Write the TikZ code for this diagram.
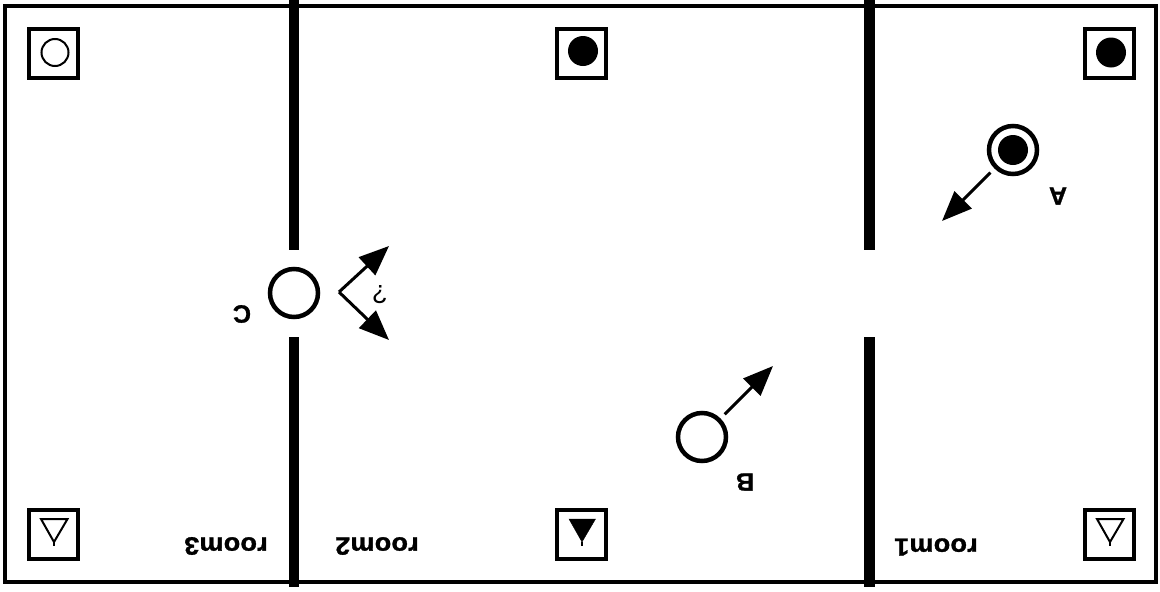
\documentclass[tikz,border=0pt]{standalone}
\usepackage{fontspec}
\setmainfont{Liberation Sans}[BoldFeatures={FakeBold=1.2}]
\newfontfamily\roomfont[FakeStretch=1.08,LetterSpace=1,BoldFeatures={FakeBold=1.2}]{Liberation Sans}
\usetikzlibrary{positioning,arrows.meta,calc}
\tikzset{
  frame/.style={draw=black,line width=4pt},
  wall/.style={draw=black,line width=10.5pt},
  cell/.style={draw=black,line width=4pt,minimum size=49pt,inner sep=0pt},
  robot/.style={circle,draw=black,line width=4.5pt,minimum size=48pt,
    inner sep=0pt,outer sep=8pt},
  move/.style={draw=black,line width=3pt,-{Triangle[length=30pt,width=24pt]}},
  tag/.style={rotate=180,inner sep=0pt,font=\fontsize{25}{25}\selectfont\bfseries},
  roomtag/.style={rotate=180,inner sep=0pt,
    font=\roomfont\fontsize{25}{25}\selectfont\bfseries},
  ask/.style={rotate=180,inner sep=0pt,font=\fontsize{26}{26}\selectfont}
}
\newcommand{\trimark}[2]{% cell, style
  \draw[#2] ($(#1)+(-12.5,-15)$) -- ($(#1)+(14,-15)$) -- ($(#1)+(0.5,8)$) -- cycle;
  \draw[line width=1.5pt] ($(#1)+(0.5,8)$) -- ($(#1)+(0.5,12)$);}

\begin{document}
\begin{tikzpicture}[x=1pt,y=-1pt]
  \useasboundingbox (0,0) rectangle (1160,592);
  \draw[frame] (5,5.5) rectangle (1155.5,581.5);
  % walls between the rooms
  \coordinate (w3a) at (294,0);
  \coordinate (w3b) at (294,250);
  \coordinate (w3c) at (294,337);
  \coordinate (w3d) at (294,587);
  \coordinate (w1a) at (869.5,0);
  \coordinate (w1b) at (869.5,250);
  \coordinate (w1c) at (869.5,337);
  \coordinate (w1d) at (869.5,587);
  \draw[wall] (w3a) -- (w3b);
  \draw[wall] (w3c) -- (w3d);
  \draw[wall] (w1a) -- (w1b);
  \draw[wall] (w1c) -- (w1d);
  % corner cells
  \node[cell] (t3) at (53.5,53.5) {};
  \node[cell] (t2) at (581.5,53.5) {};
  \node[cell] (t1) at (1109.5,53.5) {};
  \node[cell] (g3) at (53.5,534) {};
  \node[cell] (g2) at (581.5,534) {};
  \node[cell] (g1) at (1109.5,534) {};
  \draw[line width=2pt] ($(t3)+(1.5,-1)$) circle [radius=13.5];
  \fill[black] ($(t2)+(1.5,-2.5)$) circle [radius=15];
  \fill[black] ($(t1)+(1.5,-1)$) circle [radius=15];
  \trimark{g3}{draw=black,line width=2pt}
  \trimark{g2}{fill=black}
  \trimark{g1}{draw=black,line width=2pt}
  % robots
  \node[robot] (A) at (1013,150) {};
  \fill[black] (A) circle [radius=15];
  \node[robot] (B) at (702,437) {};
  \node[robot] (C) at (294,293) {};
  \coordinate (aTip) at (942,221);
  \coordinate (bTip) at (773,366);
  \coordinate (cV) at (339,292);
  \coordinate (cUp) at (389,246);
  \coordinate (cDn) at (389,340);
  \draw[move] (A) -- (aTip);
  \draw[move] (B) -- (bTip);
  \draw[move] (cV) -- (cUp);
  \draw[move] (cV) -- (cDn);
  % labels
  \node[tag] (lA) at (1058,196) {A};
  \node[tag] (lB) at (745,482) {B};
  \node[tag] (lC) at (242,314) {C};
  \node[ask] (lq) at (380,295) {?};
  \node[roomtag] (r1) at (936,547) {room1};
  \node[roomtag] (r2) at (377,546) {room2};
  \node[roomtag] (r3) at (226,546) {room3};
\end{tikzpicture}
\end{document}
